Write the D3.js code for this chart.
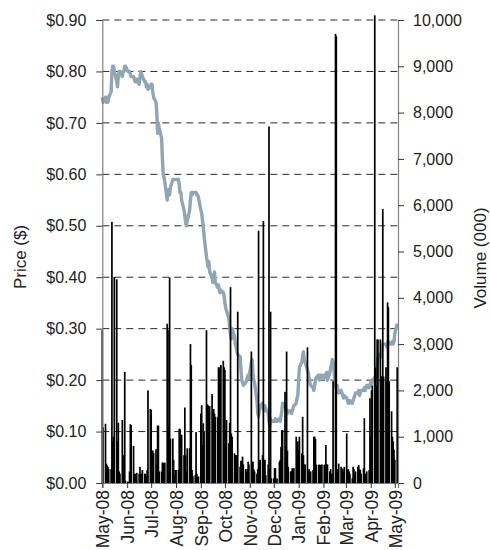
<!DOCTYPE html>
<html>
<head>
<meta charset="utf-8">
<script src="https://cdn.jsdelivr.net/npm/d3@7"></script>
<style>
  body { margin: 0; background: #fff; }
  svg { display: block; font-family: "Liberation Sans", Arial, sans-serif; }
  .axis text { fill: #222; }
</style>
</head>
<body>
<div id="chart"></div>
<script>
const width = 490;
const height = 550;
const margin = { top: 20, right: 92, bottom: 67, left: 102.3 };

// trading days run from Thu 1 May 2008 to Mon 4 May 2009 (weekdays only)
const startDate = new Date(2008, 4, 1);
const endDate = new Date(2009, 4, 4);
const axisEnd = new Date(2009, 4, 5);

const monthTicks = ["2008-05", "2008-06", "2008-07", "2008-08", "2008-09", "2008-10",
  "2008-11", "2008-12", "2009-01", "2009-02", "2009-03", "2009-04", "2009-05"];

const priceTicks = [0, 0.1, 0.2, 0.3, 0.4, 0.5, 0.6, 0.7, 0.8, 0.9];
const volumeTicks = [0, 1000, 2000, 3000, 4000, 5000, 6000, 7000, 8000, 9000, 10000];

// daily volume (000), one row per week (Mon..Fri)
const volume = [
  3300, 1200,
  1280, 420, 380, 350, 300,
  300, 5640, 900, 1000, 4450,
  4400, 900, 1300, 250, 200,
  1360, 300, 600, 2400, 50,
  30, 20, 250, 1270, 1250,
  800, 200, 180, 200, 220,
  200, 350, 200, 200, 280,
  200, 200, 150, 280, 2000,
  1600, 1580, 700, 700, 650,
  730, 400, 1240, 1240, 250,
  250, 440, 440, 300, 440,
  3440, 3300, 1200, 4440, 960,
  960, 500, 140, 280, 280,
  280, 1170, 1170, 1040, 1040,
  600, 1630, 600, 250, 750,
  750, 3000, 2550, 280, 150,
  170, 1100, 200, 140, 140,
  1500, 1680, 820, 1290, 1100,
  3300, 1700, 1680, 1500, 1660,
  1920, 1580, 1600, 1500, 1430,
  1430, 2500, 2450, 2500, 2550,
  2640, 2500, 2440, 1140, 1360,
  860, 1300, 4230, 1070, 1000,
  640, 600, 600, 500, 3700,
  350, 480, 480, 570, 400,
  300, 250, 300, 460, 400,
  2840, 460, 460, 300, 250,
  200, 300, 5450, 500, 500,
  600, 5660, 500, 500, 170,
  400, 7700, 300, 3700, 100,
  100, 320, 320, 60, 100,
  460, 500, 780, 1140, 1140,
  1970, 800, 2840, 700, 350,
  250, 250, 320, 300, 320,
  1000, 900, 900, 700, 1000,
  640, 1430, 600, 400, 400,
  2930, 250, 300, 200, 250,
  280, 1000, 1000, 950, 400,
  390, 400, 380, 390, 400,
  390, 400, 820, 400, 400,
  250, 300, 200, 200, 2200,
  9700, 9650, 250, 300, 420,
  350, 320, 300, 250, 350,
  1070, 280, 300, 250, 200,
  100, 350, 300, 200, 250,
  350, 390, 300, 280, 200,
  320, 1400, 200, 140, 250,
  280, 1830, 1000, 2000, 2100,
  10100, 2500, 2100, 3100, 3100,
  3100, 2300, 2300, 5920, 2300,
  2500, 2200, 3900, 3800, 2200,
  1550, 1000, 900, 720, 500,
  2500
];

// daily closing price ($), same layout
const price = [
  0.75, 0.74,
  0.75, 0.74, 0.75, 0.74, 0.75,
  0.76, 0.80, 0.81, 0.81, 0.80,
  0.78, 0.77, 0.79, 0.80, 0.80,
  0.79, 0.80, 0.80, 0.81, 0.81,
  0.80, 0.80, 0.80, 0.795, 0.79,
  0.79, 0.785, 0.78, 0.78, 0.785,
  0.775, 0.79, 0.80, 0.795, 0.79,
  0.78, 0.78, 0.77, 0.775, 0.765,
  0.77, 0.775, 0.775, 0.76, 0.75,
  0.74, 0.72, 0.68, 0.70, 0.69,
  0.67, 0.63, 0.60, 0.595, 0.585,
  0.55, 0.565, 0.57, 0.56, 0.575,
  0.59, 0.59, 0.59, 0.59, 0.59,
  0.59, 0.58, 0.565, 0.565, 0.55,
  0.53, 0.52, 0.505, 0.50, 0.51,
  0.53, 0.55, 0.565, 0.56, 0.565,
  0.565, 0.565, 0.56, 0.56, 0.555,
  0.53, 0.525, 0.51, 0.50, 0.48,
  0.44, 0.43, 0.42, 0.43, 0.41,
  0.40, 0.39, 0.40, 0.41, 0.39,
  0.38, 0.385, 0.375, 0.37, 0.375,
  0.37, 0.365, 0.35, 0.34, 0.335,
  0.32, 0.30, 0.29, 0.28, 0.30,
  0.285, 0.27, 0.265, 0.255, 0.25,
  0.245, 0.22, 0.20, 0.195, 0.19,
  0.195, 0.20, 0.205, 0.21, 0.205,
  0.235, 0.24, 0.215, 0.20, 0.195,
  0.16, 0.135, 0.13, 0.14, 0.15,
  0.155, 0.145, 0.14, 0.15, 0.145,
  0.135, 0.12, 0.11, 0.125, 0.12,
  0.12, 0.12, 0.125, 0.12, 0.12,
  0.125, 0.12, 0.13, 0.14, 0.155,
  0.15, 0.145, 0.14, 0.135, 0.14,
  0.14, 0.135, 0.14, 0.145, 0.15,
  0.155, 0.165, 0.17, 0.20, 0.225,
  0.235, 0.245, 0.255, 0.24, 0.235,
  0.22, 0.215, 0.205, 0.195, 0.19,
  0.185, 0.18, 0.19, 0.20, 0.205,
  0.21, 0.20, 0.205, 0.21, 0.205,
  0.21, 0.205, 0.21, 0.215, 0.20,
  0.215, 0.225, 0.23, 0.24, 0.235,
  0.19, 0.185, 0.19, 0.18, 0.175,
  0.18, 0.175, 0.17, 0.165, 0.17,
  0.165, 0.16, 0.155, 0.155, 0.16,
  0.155, 0.16, 0.165, 0.17, 0.175,
  0.175, 0.18, 0.17, 0.175, 0.18,
  0.18, 0.185, 0.18, 0.185, 0.19,
  0.185, 0.19, 0.195, 0.19, 0.20,
  0.205, 0.20, 0.21, 0.225, 0.245,
  0.25, 0.245, 0.265, 0.27, 0.27,
  0.27, 0.265, 0.27, 0.275, 0.27,
  0.27, 0.275, 0.27, 0.275, 0.29,
  0.31
];

const tradingDays = d3.timeDays(startDate, d3.timeDay.offset(endDate, 1))
  .filter(d => d.getDay() !== 0 && d.getDay() !== 6);

const data = tradingDays.map((d, i) => ({ date: d, volume: volume[i], price: price[i] }));

const svg = d3.select("#chart")
  .append("svg")
  .attr("width", width)
  .attr("height", height);

const x = d3.scaleTime()
  .domain([startDate, axisEnd])
  .range([margin.left, width - margin.right]);

const yPrice = d3.scaleLinear()
  .domain([0, 0.9])
  .range([height - margin.bottom, margin.top]);

const yVol = d3.scaleLinear()
  .domain([0, 10000])
  .range([height - margin.bottom, margin.top]);

// dashed gridlines
svg.append("g")
  .selectAll("line")
  .data(priceTicks.filter(d => d > 0))
  .join("line")
  .attr("x1", margin.left)
  .attr("x2", width - margin.right)
  .attr("y1", d => yPrice(d))
  .attr("y2", d => yPrice(d))
  .attr("stroke", "#111")
  .attr("stroke-width", 0.9)
  .attr("stroke-dasharray", "7,5");

// price line
const line = d3.line()
  .x(d => x(d.date))
  .y(d => yPrice(d.price));

svg.append("path")
  .datum(data)
  .attr("fill", "none")
  .attr("stroke", "#91a5b2")
  .attr("stroke-width", 3.4)
  .attr("stroke-linejoin", "round")
  .attr("d", line);

// volume bars
svg.append("g")
  .selectAll("rect")
  .data(data)
  .join("rect")
  .attr("x", d => x(d.date) - 0.85)
  .attr("width", 1.7)
  .attr("y", d => yVol(d.volume))
  .attr("height", d => yVol(0) - yVol(d.volume))
  .attr("fill", "#000");

// axes
const leftAxis = svg.append("g")
  .attr("class", "axis")
  .attr("transform", `translate(${margin.left}, 0)`)
  .call(d3.axisLeft(yPrice)
    .tickValues(priceTicks)
    .tickSize(6)
    .tickPadding(10)
    .tickFormat(d => "$" + d.toFixed(2)));

const rightAxis = svg.append("g")
  .attr("class", "axis")
  .attr("transform", `translate(${width - margin.right}, 0)`)
  .call(d3.axisRight(yVol)
    .tickValues(volumeTicks)
    .tickSize(6)
    .tickPadding(9)
    .tickFormat(d3.format(",")));

const bottomAxis = svg.append("g")
  .attr("class", "axis")
  .attr("transform", `translate(0, ${height - margin.bottom})`)
  .call(d3.axisBottom(x)
    .tickValues(monthTicks.map(d3.timeParse("%Y-%m")))
    .tickSize(5)
    .tickFormat(d3.timeFormat("%b-%y")));

bottomAxis.selectAll("text")
  .attr("transform", "rotate(-90)")
  .attr("text-anchor", "end")
  .attr("x", -7)
  .attr("y", 0)
  .attr("dy", "0.36em")
  .style("font-size", "17.5px");

leftAxis.selectAll("text").style("font-size", "16px");
rightAxis.selectAll("text").style("font-size", "16px");

svg.selectAll(".axis .domain").attr("stroke", "#808080").attr("stroke-width", 1.2);
svg.selectAll(".axis .tick line").attr("stroke", "#333");

svg.append("text")
  .attr("transform", "translate(26, 257) rotate(-90)")
  .attr("text-anchor", "middle")
  .attr("fill", "#222")
  .style("font-size", "17px")
  .text("Price ($)");

svg.append("text")
  .attr("transform", "translate(486, 258) rotate(-90)")
  .attr("text-anchor", "middle")
  .attr("fill", "#222")
  .style("font-size", "17px")
  .text("Volume (000)");
</script>
</body>
</html>
